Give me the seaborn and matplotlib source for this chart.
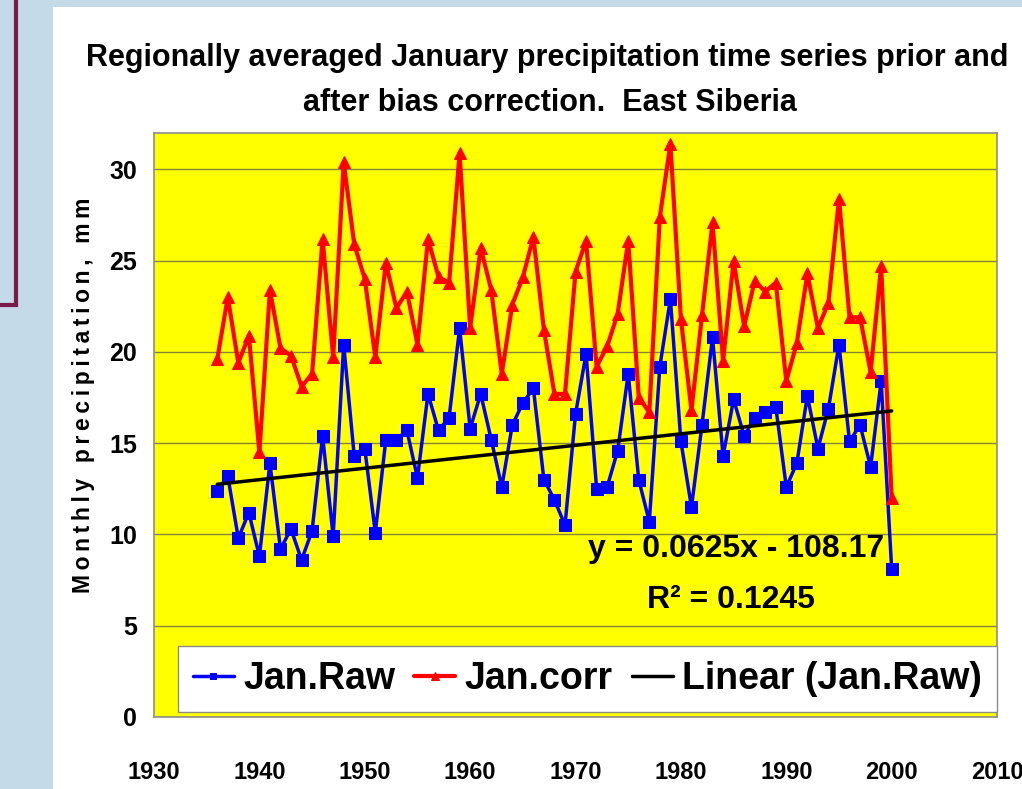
import numpy as np
import pandas as pd
import matplotlib
matplotlib.use('Agg')
import matplotlib.pyplot as plt
from matplotlib.patches import Rectangle
import seaborn as sns

years = list(range(1936, 2001))
jan_raw = [12.4, 13.2, 9.8, 11.2, 8.8, 13.9, 9.2, 10.3, 8.6, 10.2,
           15.4, 9.9, 20.4, 14.3, 14.7, 10.1, 15.2, 15.2, 15.7, 13.1,
           17.7, 15.7, 16.4, 21.3, 15.8, 17.7, 15.2, 12.6, 16.0, 17.2,
           18.0, 13.0, 11.9, 10.5, 16.6, 19.9, 12.5, 12.6, 14.6, 18.8,
           13.0, 10.7, 19.2, 22.9, 15.1, 11.5, 16.0, 20.8, 14.3, 17.4,
           15.4, 16.4, 16.7, 17.0, 12.6, 13.9, 17.6, 14.7, 16.9, 20.4,
           15.1, 16.0, 13.7, 18.4, 8.1]
jan_corr = [19.6, 23.0, 19.4, 20.9, 14.5, 23.4, 20.2, 19.8, 18.1, 18.8,
            26.2, 19.7, 30.4, 25.9, 24.0, 19.7, 24.9, 22.4, 23.3, 20.4,
            26.2, 24.1, 23.8, 30.9, 21.3, 25.7, 23.4, 18.8, 22.6, 24.1,
            26.3, 21.2, 17.7, 17.7, 24.4, 26.1, 19.2, 20.3, 22.1, 26.1,
            17.5, 16.7, 27.4, 31.4, 21.8, 16.8, 22.0, 27.1, 19.5, 25.0,
            21.4, 23.9, 23.3, 23.8, 18.4, 20.5, 24.3, 21.3, 22.7, 28.4,
            21.9, 21.9, 18.9, 24.7, 12.0]
xticks = list(range(1930, 2011, 10))
yticks = [0, 5, 10, 15, 20, 25, 30]
ylabel = 'Monthly precipitation, mm'
eq_text = "y = 0.0625x - 108.17"
r2_text = "R² = 0.1245"

df = pd.DataFrame({'year': years, 'raw': jan_raw, 'corr': jan_corr})

sns.set_style('white')
plt.rcParams['font.family'] = ['Liberation Sans', 'DejaVu Sans']
plt.rcParams['font.weight'] = 'bold'
plt.rcParams['text.color'] = 'black'
plt.rcParams['axes.labelcolor'] = 'black'
plt.rcParams['xtick.color'] = 'black'
plt.rcParams['ytick.color'] = 'black'

fig = plt.figure(figsize=(10.22, 7.89), dpi=100, facecolor='#c5dae9')
# slide background pieces
fig.patches.append(Rectangle((0.052, 0), 0.95, 0.991, transform=fig.transFigure,
                             facecolor='white', edgecolor='none', zorder=-5))
fig.patches.append(Rectangle((-0.01, 0.614), 0.026, 0.4, transform=fig.transFigure,
                             facecolor='none', edgecolor='#7a1a48', lw=3, zorder=-5))

ax = fig.add_axes([0.1507, 0.0913, 0.8249, 0.7402])
ax.set_zorder(2)
ax.set_facecolor('#ffff00')

sns.regplot(data=df, x='year', y='raw', scatter=False, ci=None, ax=ax,
            color='black', line_kws={'lw': 2.5, 'zorder': 4}, label='Linear (Jan.Raw)')
sns.lineplot(data=df, x='year', y='raw', ax=ax, color='#0000ff', lw=2.5,
             marker='s', markersize=8, markeredgecolor='#0000ff', label='Jan.Raw', zorder=3)
sns.lineplot(data=df, x='year', y='corr', ax=ax, color='#ff0000', lw=3,
             marker='^', markersize=9, markeredgecolor='#ff0000', label='Jan.corr', zorder=3)

ax.set_xlim(1930, 2010)
ax.set_ylim(0, 32)
ax.set_xticks(xticks)
ax.set_yticks(yticks)
ax.grid(axis='y', color='#85853a', lw=1)
ax.set_axisbelow(True)
for s in ax.spines.values():
    s.set_color('#8c8c8c')
    s.set_linewidth(1.2)
ax.tick_params(axis='x', direction='out', length=10, width=1, color='#8c8c8c',
               labelcolor='black', pad=22, labelsize=17)
ax.tick_params(axis='y', direction='out', length=6, width=1, color='#8c8c8c',
               labelcolor='black', pad=6, labelsize=18)
for lab in ax.get_xticklabels() + ax.get_yticklabels():
    lab.set_fontweight('bold')
ax.set_xlabel('')
# letter-spaced axis title, as in the original
ax.set_ylabel('\u2009'.join(ylabel), fontsize=16.5, fontweight='bold')
ax.yaxis.set_label_coords(-0.07, 0.55)

ax.text(1985.2, 9.2, eq_text, ha='center', va='center', fontsize=23, fontweight='bold')
ax.text(1984.7, 6.4, r2_text, ha='center', va='center', fontsize=23, fontweight='bold')

handles, labels = ax.get_legend_handles_labels()
order = [labels.index(n) for n in ['Jan.Raw', 'Jan.corr', 'Linear (Jan.Raw)']]
leg = ax.legend([handles[i] for i in order], [labels[i] for i in order],
                loc='lower right', bbox_to_anchor=(1.0, 0.009), borderaxespad=0, ncol=3,
                handlelength=1.1, handletextpad=0.25, columnspacing=0.5,
                borderpad=0.4, fancybox=False, framealpha=1, edgecolor='#8c8c8c',
                markerscale=0.6, prop={'weight': 'bold', 'size': 27})
leg.get_frame().set_linewidth(1)

fig.text(0.535, 0.926, 'Regionally averaged January precipitation time series prior and',
         ha='center', va='center', fontsize=22, fontweight='bold')
fig.text(0.538, 0.869, 'after bias correction.  East Siberia',
         ha='center', va='center', fontsize=22, fontweight='bold')

fig.savefig('out.png', dpi=100, facecolor=fig.get_facecolor())
